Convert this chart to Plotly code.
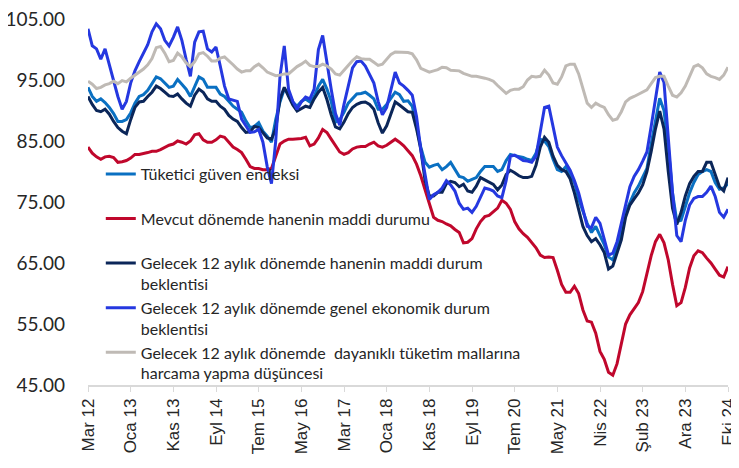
import plotly.graph_objects as go

# Monthly index values (one missing month in the source, so axis is category-like)
tick_labels = ["Mar 12", "Oca 13", "Kas 13", "Eyl 14", "Tem 15", "May 16", "Mar 17", "Oca 18",
               "Kas 18", "Eyl 19", "Tem 20", "May 21", "Nis 22", "Şub 23", "Ara 23", "Eki 24"]

tuketici = [93.8, 92.3, 91.5, 91.9, 91.3, 90.5, 89.5, 88.2, 88.2, 88.5,
            89.6, 91.2, 92.3, 92.6, 93.3, 94.3, 95.5, 95.2, 94.5, 93.8,
            94.0, 95.1, 94.3, 93.5, 92.3, 94.0, 95.5, 95.1, 93.8, 93.8,
            93.8, 92.7, 92.3, 91.5, 90.7, 90.2, 89.7, 88.3, 87.2, 87.4,
            88.0, 86.6, 85.8, 84.8, 88.5, 91.4, 93.5, 93.0, 91.4, 90.7,
            91.5, 91.9, 91.4, 92.3, 94.0, 95.1, 93.5, 91.5, 88.1, 88.5,
            89.7, 91.2, 92.0, 92.7, 92.8, 93.0, 92.5, 91.9, 90.2, 90.2,
            91.0, 91.9, 93.0, 92.6, 91.5, 91.6, 90.7, 87.4, 84.0, 81.5,
            80.7, 81.0, 81.2, 80.3, 80.8, 81.5, 80.3, 79.2, 79.0, 78.4,
            78.7, 79.0, 80.0, 80.8, 80.8, 80.8, 80.0, 80.3, 81.8, 82.8,
            82.6, 82.5, 82.3, 82.0, 81.8, 83.0, 85.3, 85.0, 84.1, 82.0,
            80.3, 80.0, 80.8, 79.5, 78.2, 75.5, 73.3, 71.5, 70.0, 71.0,
            69.5, 68.0, 66.0, 65.5, 67.5, 70.0, 73.3, 75.0, 76.5, 77.6,
            79.0, 80.5, 84.5, 88.5, 92.0, 90.0, 84.0, 76.5, 71.8, 72.0,
            74.3, 76.5, 78.2, 79.5, 80.0, 80.3, 80.0, 78.2, 77.1, 77.3,
            78.0]

mevcut = [84.0, 83.0, 82.4, 82.0, 82.4, 82.5, 82.3, 81.5, 81.6, 81.8,
          82.2, 82.8, 82.8, 82.9, 83.1, 83.3, 83.3, 83.6, 84.0, 84.3,
          84.5, 85.0, 84.8, 84.5, 85.0, 86.0, 86.2, 85.2, 84.8, 84.8,
          85.2, 85.8, 85.6, 84.8, 84.0, 83.6, 83.1, 82.0, 80.8, 80.5,
          80.5, 80.3, 80.3, 80.5, 82.5, 84.5, 85.0, 85.3, 85.3, 85.3,
          85.4, 85.6, 84.2, 84.5, 85.5, 86.9, 86.4, 85.3, 84.3, 83.2,
          82.8, 83.1, 83.7, 84.0, 84.1, 84.1, 84.5, 84.8, 84.2, 84.0,
          84.3, 84.8, 85.3, 84.8, 84.2, 83.4, 82.6, 81.2, 79.3, 77.0,
          74.8, 72.5, 72.0, 71.8, 71.4, 71.1, 70.5, 70.0, 68.3, 68.4,
          69.0, 70.6, 71.8, 72.6, 72.8, 73.4, 74.0, 75.3, 74.8, 73.8,
          71.8, 70.6, 69.8, 69.2, 68.4, 67.5, 66.3, 65.9, 66.0, 65.9,
          63.8, 61.5, 60.2, 60.2, 61.2, 60.0, 57.3, 55.5, 55.3, 53.5,
          50.5, 49.2, 47.1, 46.6, 48.5, 51.5, 55.0, 56.5, 57.5, 58.5,
          60.3, 63.5, 66.2, 68.5, 69.7, 68.3, 65.5, 61.5, 58.0, 58.5,
          61.0, 64.2, 66.2, 67.0, 66.7, 65.8, 65.0, 64.0, 63.0, 62.7,
          64.4]

hane_beklenti = [92.3, 91.0, 90.0, 89.8, 90.2, 89.4, 88.2, 87.2, 86.6, 86.2,
                 88.5, 90.5, 91.4, 91.5, 92.3, 93.0, 94.0, 93.6, 93.0, 92.4,
                 92.3, 92.7, 91.9, 91.2, 90.7, 92.5, 93.5, 93.0, 91.9, 91.5,
                 91.5, 90.7, 90.2, 89.2, 88.6, 88.2, 87.2, 86.4, 86.5, 87.4,
                 87.2, 86.4, 85.5, 85.3, 87.0, 91.9, 93.8, 92.3, 90.9, 89.9,
                 90.3, 90.7, 90.5, 91.9, 93.0, 93.8, 91.8, 89.3, 87.3, 87.0,
                 88.1, 89.5, 90.5, 91.0, 91.3, 91.4, 91.0, 90.2, 88.0, 86.3,
                 87.5, 89.5, 91.4, 90.9, 90.4, 89.8, 89.7, 87.0, 83.6, 78.5,
                 76.0, 76.0, 76.6, 76.6, 78.0, 78.4, 78.2, 77.5, 77.9, 76.8,
                 76.6, 77.6, 79.0, 78.6, 78.2, 77.9, 77.0, 77.8, 79.5, 80.2,
                 79.8, 79.3, 79.0, 79.0, 79.2, 81.0, 84.0, 85.6, 84.8, 82.5,
                 81.0, 80.3, 80.0, 78.8, 76.5, 73.5, 71.0, 69.5, 68.5, 69.0,
                 68.0, 66.7, 64.0, 64.5, 66.5, 68.8, 72.5, 74.5, 75.5, 76.5,
                 77.8, 80.0, 83.3, 87.0, 89.9, 87.0, 80.0, 74.0, 71.3, 73.3,
                 76.0, 78.0, 79.2, 80.0, 80.0, 81.5, 81.5, 79.5, 77.5, 76.8,
                 79.0]

genel_beklenti = [103.4, 100.6, 100.1, 98.4, 100.1, 97.5, 95.0, 92.3, 90.2, 91.5,
                  94.5, 96.5, 98.0, 99.5, 100.8, 102.9, 104.2, 103.4, 101.5, 100.6,
                  102.0, 103.7, 101.5, 98.4, 95.6, 101.2, 102.9, 103.0, 100.1, 99.6,
                  100.4, 97.3, 94.0, 91.9, 91.7, 91.5, 88.6, 87.5, 86.4, 86.5,
                  86.9, 84.8, 80.8, 78.0, 85.0, 95.6, 100.6, 93.5, 91.5, 90.2,
                  91.4, 92.2, 91.9, 93.5, 100.0, 102.3, 97.5, 93.5, 89.5, 87.6,
                  91.0, 94.3, 97.0, 98.0, 98.1, 97.3, 96.0, 94.5, 91.5, 89.3,
                  90.5, 93.5, 96.3, 94.5, 94.0, 93.3, 92.5, 89.0, 83.6, 79.5,
                  75.4, 76.2, 76.6, 77.3, 78.5, 77.8, 76.8, 74.8, 73.8, 74.0,
                  73.3, 74.3, 75.9, 77.3, 77.1, 76.8, 76.0, 75.7, 78.5, 82.5,
                  82.7, 82.2, 81.8, 81.7, 81.5, 82.5, 86.5, 90.5, 90.7, 87.5,
                  84.0, 82.6, 81.5, 80.2, 78.5, 76.5, 73.8, 71.0, 70.8, 72.5,
                  71.5, 68.8, 66.3, 66.6, 68.5, 71.5, 74.5, 77.5, 79.2, 80.3,
                  81.7, 83.2, 87.4, 91.8, 96.3, 94.6, 86.0, 76.5, 69.5, 68.5,
                  72.0, 74.5, 75.6, 75.9, 75.9, 76.6, 77.6, 75.9, 73.3, 72.5,
                  73.8]

dayanikli = [94.8, 94.3, 93.6, 93.8, 94.2, 94.4, 94.8, 94.4, 94.9, 94.7,
             95.3, 95.8, 96.3, 96.8, 97.5, 98.5, 100.3, 100.5, 99.4, 98.0,
             98.2, 99.4, 98.8, 97.8, 97.2, 98.0, 99.3, 99.5, 98.9, 98.1,
             98.1, 98.6, 98.8, 98.2, 97.5, 96.8, 96.3, 96.5, 96.5, 97.2,
             97.6, 97.0, 96.3, 96.0, 95.7, 95.8, 96.0, 96.0, 96.6, 97.2,
             97.6, 98.1, 97.4, 97.2, 97.2, 97.6, 97.3, 96.8, 96.0, 95.8,
             96.6, 97.4, 98.2, 98.8, 98.5, 98.4, 98.4, 97.9, 97.4, 97.6,
             98.5, 99.2, 99.6, 99.6, 99.6, 99.5, 99.3, 98.3, 96.9, 96.6,
             96.3, 96.5, 96.7, 97.1, 97.0, 96.6, 96.5, 96.5, 96.1, 95.9,
             95.6, 95.6, 95.5, 95.3, 95.1, 94.8, 94.1, 93.4, 92.8, 93.3,
             93.5, 93.5, 93.9, 95.0, 95.6, 95.5, 95.6, 96.6, 95.8, 94.5,
             94.3, 95.5, 97.3, 97.6, 97.6, 96.0, 93.5, 91.2, 90.5, 91.2,
             90.8, 90.5, 89.3, 88.4, 88.6, 89.8, 91.4, 92.0, 92.3, 92.7,
             93.0, 93.4, 94.4, 95.4, 95.6, 95.6, 94.0, 92.5, 92.2, 92.9,
             94.0, 95.6, 97.2, 97.5, 97.0, 96.0, 95.6, 95.4, 95.1, 95.8,
             97.1]

series = [
    ("Tüketici güven endeksi<br>&nbsp;", tuketici, "#0A70C2"),
    ("Mevcut dönemde hanenin maddi durumu<br>&nbsp;", mevcut, "#C0072C"),
    ("Gelecek 12 aylık dönemde hanenin maddi durum<br>beklentisi", hane_beklenti, "#0B2659"),
    ("Gelecek 12 aylık dönemde genel ekonomik durum<br>beklentisi", genel_beklenti, "#2538E0"),
    ("Gelecek 12 aylık dönemde  dayanıklı tüketim mallarına<br>harcama yapma düşüncesi", dayanikli, "#BFBAB5"),
]

x_idx = list(range(len(tuketici)))

fig = go.Figure()
for name, vals, color in series:
    fig.add_trace(go.Scatter(
        x=x_idx, y=vals, name=name, mode="lines",
        line=dict(color=color, width=3)
    ))

# page body adds an 8px margin, so the figure is a bit smaller than the window
fig.update_layout(
    width=731, height=460,
    margin=dict(l=80, r=11, t=11, b=83),
    paper_bgcolor="white", plot_bgcolor="white",
    font=dict(family="Lato", color="#262626"),
    legend=dict(
        x=0.02, y=0.623, xanchor="left", yanchor="top",
        bgcolor="rgba(0,0,0,0)", valign="top",
        font=dict(family="Lato", size=16, color="#262626"),
        tracegroupgap=0,
    ),
    showlegend=True,
)

fig.update_xaxes(
    range=[0, 150],
    tickvals=list(range(0, 151, 10)), ticktext=tick_labels,
    tickangle=-90,
    showgrid=False, zeroline=False,
    showline=True, linecolor="#D9D9D9", linewidth=1.5,
    ticks="outside", ticklen=5, tickcolor="#D9D9D9",
    automargin=False, ticklabeloverflow="allow",
    tickfont=dict(family="Liberation Sans", size=17, color="#262626"),
)
fig.update_yaxes(
    range=[45, 105],
    tickvals=[45, 55, 65, 75, 85, 95, 105],
    tickformat=".2f",
    showgrid=False, zeroline=False, showline=False,
    ticklabelstandoff=22,
    automargin=False, ticklabeloverflow="allow",
    tickfont=dict(family="Lato", size=19, color="#262626"),
)

fig.write_html("out.html")
